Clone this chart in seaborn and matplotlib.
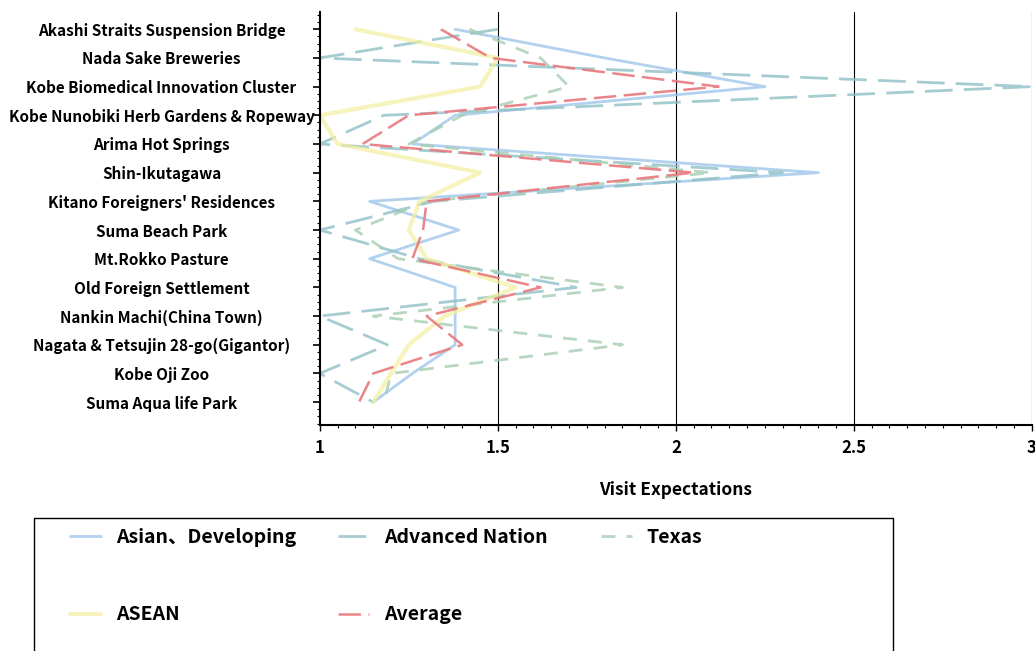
import numpy as np
import pandas as pd
import matplotlib
matplotlib.use("Agg")
import matplotlib.pyplot as plt
import seaborn as sns
from matplotlib.patches import Rectangle
from matplotlib.ticker import AutoMinorLocator

places = [
    "Akashi Straits Suspension Bridge",
    "Nada Sake Breweries",
    "Kobe Biomedical Innovation Cluster",
    "Kobe Nunobiki Herb Gardens & Ropeway",
    "Arima Hot Springs",
    "Shin-Ikutagawa",
    "Kitano Foreigners' Residences",
    "Suma Beach Park",
    "Mt.Rokko Pasture",
    "Old Foreign Settlement",
    "Nankin Machi(China Town)",
    "Nagata & Tetsujin 28-go(Gigantor)",
    "Kobe Oji Zoo",
    "Suma Aqua life Park",
]

asian_developing = [1.38, 1.80, 2.25, 1.38, 1.26, 2.40, 1.14, 1.39, 1.14, 1.38, 1.38, 1.38, 1.26, 1.15]
advanced_nation = [1.50, 1.00, 3.00, 1.18, 1.00, 2.30, 1.32, 1.00, 1.28, 1.72, 1.00, 1.19, 1.00, 1.15]
texas = [1.42, 1.62, 1.70, 1.40, 1.25, 2.10, 1.30, 1.10, 1.22, 1.85, 1.15, 1.85, 1.20, 1.18]
asean = [1.10, 1.50, 1.45, 1.00, 1.05, 1.45, 1.28, 1.25, 1.30, 1.55, 1.35, 1.25, 1.20, 1.15]
average = [1.34, 1.48, 2.12, 1.25, 1.12, 2.05, 1.30, 1.29, 1.26, 1.62, 1.30, 1.40, 1.15, 1.11]

series_names = ["Asian、Developing", "Advanced Nation", "Texas", "ASEAN", "Average"]
series_values = [asian_developing, advanced_nation, texas, asean, average]

x_ticks = [1, 1.5, 2, 2.5, 3]
x_tick_labels = ["1", "1.5", "2", "2.5", "3"]

sns.set_theme(style="white")
plt.rcParams["font.family"] = ["Noto Sans CJK JP", "DejaVu Sans"]
plt.rcParams["text.color"] = "black"
plt.rcParams["axes.labelcolor"] = "black"
plt.rcParams["xtick.color"] = "black"
plt.rcParams["ytick.color"] = "black"

fig = plt.figure(figsize=(10.35, 6.51), dpi=100)
ax = fig.add_axes([0.309, 0.347, 0.688, 0.6345])

styles = {
    "Asian、Developing": dict(color="#9fc6ea", lw=2.0, ls="-", alpha=0.8),
    "Advanced Nation": dict(color="#8fc0c6", lw=2.0, ls=(0, (10, 4)), alpha=0.8),
    "Texas": dict(color="#a6cdb2", lw=2.0, ls=(0, (5, 4)), alpha=0.8),
    "ASEAN": dict(color="#f3efa0", lw=3.0, ls="-", alpha=0.7),
    "Average": dict(color="#e8787c", lw=1.8, ls=(0, (9, 3)), alpha=0.9),
}

pos = np.arange(len(places))
handles = {}
for name, vals in zip(series_names, series_values):
    df = pd.DataFrame({"value": vals, "pos": pos})
    st = styles[name]
    sns.lineplot(data=df, x="value", y="pos", orient="y", sort=False,
                 errorbar=None, estimator=None, ax=ax, color=st["color"],
                 linewidth=st["lw"], linestyle=st["ls"], alpha=st["alpha"],
                 legend=False)
    handles[name] = ax.lines[-1]

ax.set_xlim(1, 3)
ax.set_ylim(len(places) - 0.2, -0.6)
ax.set_xticks(x_ticks)
ax.set_xticklabels(x_tick_labels, fontsize=12, fontweight="bold", color="black")
ax.set_yticks(pos)
ax.set_yticklabels(places, fontsize=11, fontweight="bold", ha="center", color="black")
ax.tick_params(axis="y", which="major", direction="out", length=5, width=1.2,
               pad=109, left=True, color="black")
ax.tick_params(axis="x", which="major", direction="out", length=4, width=1,
               bottom=True, color="black", pad=6)
ax.xaxis.set_minor_locator(AutoMinorLocator(10))
ax.yaxis.set_minor_locator(AutoMinorLocator(4))
ax.tick_params(which="minor", direction="out", length=2, width=0.8, color="black",
               left=True, bottom=True)
ax.set_xlabel("Visit Expectations", fontsize=12.5, fontweight="bold", labelpad=17,
              color="black")
ax.set_ylabel("")

for x in x_ticks[1:]:
    ax.axvline(x, color="black", lw=0.8, zorder=0)

ax.spines["top"].set_visible(False)
ax.spines["right"].set_visible(False)
ax.spines["left"].set_color("black")
ax.spines["left"].set_linewidth(1.5)
ax.spines["bottom"].set_color("black")
ax.spines["bottom"].set_linewidth(1.5)

# legend frame
fig.patches.append(Rectangle((34 / 1035, -0.1), (893 - 34) / 1035, 0.1 + 1 - 518 / 651,
                             transform=fig.transFigure, fill=False,
                             edgecolor="black", lw=1.0))

leg_kw = dict(loc="upper left", frameon=False, borderpad=0,
              handlelength=1.6, handletextpad=0.75, labelspacing=3.0,
              borderaxespad=0, labelcolor="black",
              prop=dict(family=["Noto Sans CJK JP", "DejaVu Sans"],
                        size=14, weight="bold"))
cols = [(70, ["Asian、Developing", "ASEAN"]),
        (338, ["Advanced Nation", "Average"]),
        (601, ["Texas"])]
top = 1 - 528 / 651
for xpix, names in cols:
    fig.legend([handles[n] for n in names], names,
               bbox_to_anchor=(xpix / 1035, top), **leg_kw)

fig.savefig("out.png", dpi=100)
